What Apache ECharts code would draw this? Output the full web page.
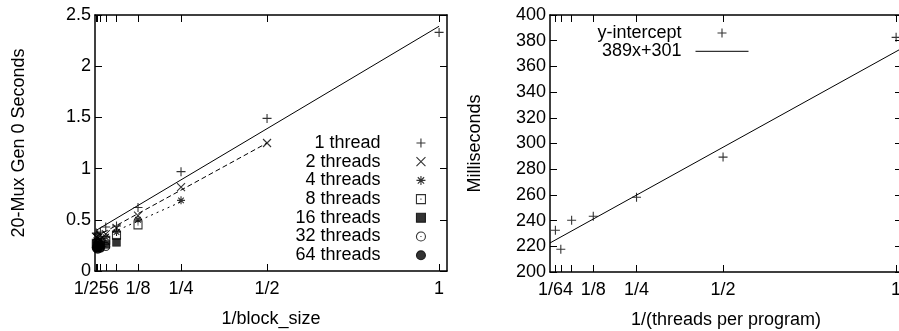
<!DOCTYPE html>
<html><head><meta charset="utf-8">
<script src="https://cdn.jsdelivr.net/npm/echarts@6/dist/echarts.min.js"></script>
<style>html,body{margin:0;padding:0;background:#fff}#c{width:899px;height:331px}</style>
</head><body><div id="c"></div>
<script>
// ---------- data (left chart) ----------
const blockX = [1/256, 1/128, 1/64, 1/32, 1/16, 1/8, 1/4, 1/2, 1];
const threadNames = ['1 thread', '2 threads', '4 threads', '8 threads', '16 threads', '32 threads', '64 threads'];
const t1  = [0.37, 0.36, 0.38, 0.43, 0.44, 0.62, 0.97, 1.49, 2.33];
const t2  = [0.33, 0.32, 0.35, 0.36, 0.42, 0.54, 0.82, 1.25, null];
const t4  = [0.30, 0.29, 0.31, 0.33, 0.38, 0.50, 0.69, null, null];
const t8  = [0.27, 0.27, 0.28, 0.30, 0.35, 0.45, null, null, null];
const t16 = [0.25, 0.24, 0.25, 0.26, 0.28, null, null, null, null];
const t32 = [0.23, 0.23, 0.23, 0.24, null, null, null, null, null];
const t64 = [0.22, 0.21, 0.22, null, null, null, null, null, null];
const fitSlopeL = [2.0, 1.84, 1.5];
const fitInterceptL = [0.39, 0.33, 0.30];
const fitEndL = [1, 0.5, 0.25];
const leftXLabelValues = [1/256, 1/8, 1/4, 1/2, 1];
const leftXLabels = ['1/256', '1/8', '1/4', '1/2', '1'];
// ---------- data (right chart) ----------
const rightX = [1/64, 1/32, 1/16, 1/8, 1/4, 1/2, 1];
const rightY = [232.5, 217.7, 240.3, 243.4, 258.2, 289.4, 382.6];
const rightXLabelValues = [1/64, 1/8, 1/4, 1/2, 1];
const rightXLabels = ['1/64', '1/8', '1/4', '1/2', '1'];
const fitR = [149, 222.6]; // slope, intercept
const rightNames = ['y-intercept', '389x+301'];

const FONT = '"Liberation Sans", Arial, sans-serif';
const INK = '#000';
const LXMAX = 1.023, RXMAX = 1.017;

function fmt(vals, texts) {
  return v => { const i = vals.findIndex(x => Math.abs(x - v) < 1e-9); return i < 0 ? '' : texts[i]; };
}
function xAxis(grid, pos, max, tickVals, labVals, labTexts, name) {
  const show = pos === 'bottom';
  return {
    type: 'value', gridIndex: grid, position: pos, min: 0, max: max,
    axisLine: { show: true, onZero: false, lineStyle: { color: INK, width: 1.5 } },
    axisTick: { show: true, inside: true, length: 7, customValues: tickVals, lineStyle: { color: INK, width: 1 } },
    axisLabel: { show: show, customValues: labVals, formatter: fmt(labVals, labTexts), margin: 9,
      fontSize: 18, color: INK, fontFamily: FONT, hideOverlap: false, showMinLabel: true, showMaxLabel: true },
    splitLine: { show: false },
    name: show ? name : '', nameLocation: 'middle', nameGap: 39,
    nameTextStyle: { fontSize: 18, color: INK, fontFamily: FONT }
  };
}
function yAxis(grid, pos, min, max, interval, name, gap) {
  const show = pos === 'left';
  return {
    type: 'value', gridIndex: grid, position: pos, min: min, max: max, interval: interval,
    axisLine: { show: true, onZero: false, lineStyle: { color: INK, width: 1.5 } },
    axisTick: { show: true, inside: true, length: 7, lineStyle: { color: INK, width: 1 } },
    axisLabel: { show: show, margin: 4, fontSize: 18, color: INK, fontFamily: FONT },
    splitLine: { show: false },
    name: show ? name : '', nameLocation: 'middle', nameGap: gap, nameRotate: 90,
    nameTextStyle: { fontSize: 18, color: INK, fontFamily: FONT }
  };
}

const SYM = {
  plus: 'path://M5,0L5,10M0,5L10,5',
  cross: 'path://M0,0L10,10M10,0L0,10',
  star: 'path://M5,0L5,10M0,5L10,5M1.5,1.5L8.5,8.5M8.5,1.5L1.5,8.5',
  box: 'path://M0,0L10,0L10,10L0,10ZM4.4,5L5.6,5',
  square: 'path://M0,0L10,0L10,10L0,10Z',
  ring: 'path://M0,5A5,5 0 1,1 10,5A5,5 0 1,1 0,5ZM4.4,5L5.6,5',
  disc: 'path://M0,5A5,5 0 1,1 10,5A5,5 0 1,1 0,5Z'
};
const threadData = [t1, t2, t4, t8, t16, t32, t64];
const threadSym = [
  { s: SYM.plus, size: 9, fill: false },
  { s: SYM.cross, size: 8, fill: false },
  { s: SYM.star, size: 8, fill: false },
  { s: SYM.box, size: 8, fill: false },
  { s: SYM.square, size: 8, fill: true },
  { s: SYM.ring, size: 8, fill: false },
  { s: SYM.disc, size: 8, fill: true }
];

const series = [];
threadData.forEach((arr, k) => {
  const pts = [];
  arr.forEach((v, j) => { if (v !== null) pts.push([blockX[j], v]); });
  const st = threadSym[k];
  series.push({
    type: 'scatter', name: threadNames[k], xAxisIndex: 0, yAxisIndex: 0,
    symbol: st.s, symbolSize: st.size, data: pts, z: 3,
    itemStyle: st.fill ? { color: INK, borderColor: INK, borderWidth: 0.5 } : { color: 'rgba(0,0,0,0)', borderColor: INK, borderWidth: 1.1 },
    emphasis: { disabled: true }
  });
});
const dashTypes = ['solid', [5, 3], [2, 4]];
fitSlopeL.forEach((b, k) => {
  const x0 = blockX[0], x1 = fitEndL[k];
  series.push({
    type: 'line', name: 'fit' + k, xAxisIndex: 0, yAxisIndex: 0, symbol: 'none', z: 2,
    data: [[x0, fitInterceptL[k] + b * x0], [x1, fitInterceptL[k] + b * x1]],
    lineStyle: { color: INK, width: 1, type: dashTypes[k] }, emphasis: { disabled: true }
  });
});
series.push({
  type: 'scatter', name: rightNames[0], xAxisIndex: 2, yAxisIndex: 2,
  symbol: SYM.plus, symbolSize: 9, data: rightX.map((x, i) => [x, rightY[i]]),
  itemStyle: { color: 'rgba(0,0,0,0)', borderColor: INK, borderWidth: 1.1 }, emphasis: { disabled: true }
});
series.push({
  type: 'line', name: rightNames[1], xAxisIndex: 2, yAxisIndex: 2, symbol: 'none',
  data: [[0, fitR[1]], [RXMAX, fitR[1] + fitR[0] * RXMAX]],
  lineStyle: { color: INK, width: 1 }, itemStyle: { color: INK }, emphasis: { disabled: true }
});

const legendBase = {
  orient: 'vertical', align: 'right', padding: 0, itemWidth: 53, itemHeight: 9, itemGap: 0.7,
  selectedMode: false,
  itemStyle: { borderWidth: 1.1 },
  lineStyle: { width: 1 },
  textStyle: { fontSize: 18, color: INK, fontFamily: FONT, padding: [0, 9, 0, 0] }
};

const option = {
  animation: false,
  backgroundColor: '#fff',
  grid: [
    { left: 95, top: 15, width: 352, height: 256, outerBoundsMode: 'none', containLabel: false },
    { left: 550, top: 15, width: 352, height: 257, outerBoundsMode: 'none', containLabel: false }
  ],
  xAxis: [
    xAxis(0, 'bottom', LXMAX, blockX, leftXLabelValues, leftXLabels, '1/block_size'),
    xAxis(0, 'top', LXMAX, blockX, leftXLabelValues, leftXLabels, ''),
    xAxis(1, 'bottom', RXMAX, rightX, rightXLabelValues, rightXLabels, '1/(threads per program)'),
    xAxis(1, 'top', RXMAX, rightX, rightXLabelValues, rightXLabels, '')
  ],
  yAxis: [
    yAxis(0, 'left', 0, 2.5, 0.5, '20-Mux Gen 0 Seconds', 67),
    yAxis(0, 'right', 0, 2.5, 0.5, '', 0),
    yAxis(1, 'left', 200, 400, 20, 'Milliseconds', 66),
    yAxis(1, 'right', 200, 400, 20, '', 0)
  ],
  legend: [
    Object.assign({}, legendBase, { data: threadNames, right: 473, top: 134 }),
    Object.assign({}, legendBase, {
      data: [{ name: rightNames[0] }, { name: rightNames[1], itemStyle: { opacity: 0 }, lineStyle: { width: 1, color: INK, opacity: 1 } }],
      right: 150, top: 24, itemGap: 0.3
    })
  ],
  series: series
};
const chart = echarts.init(document.getElementById('c'), null, { renderer: 'canvas' });
chart.setOption(option);
</script></body></html>
